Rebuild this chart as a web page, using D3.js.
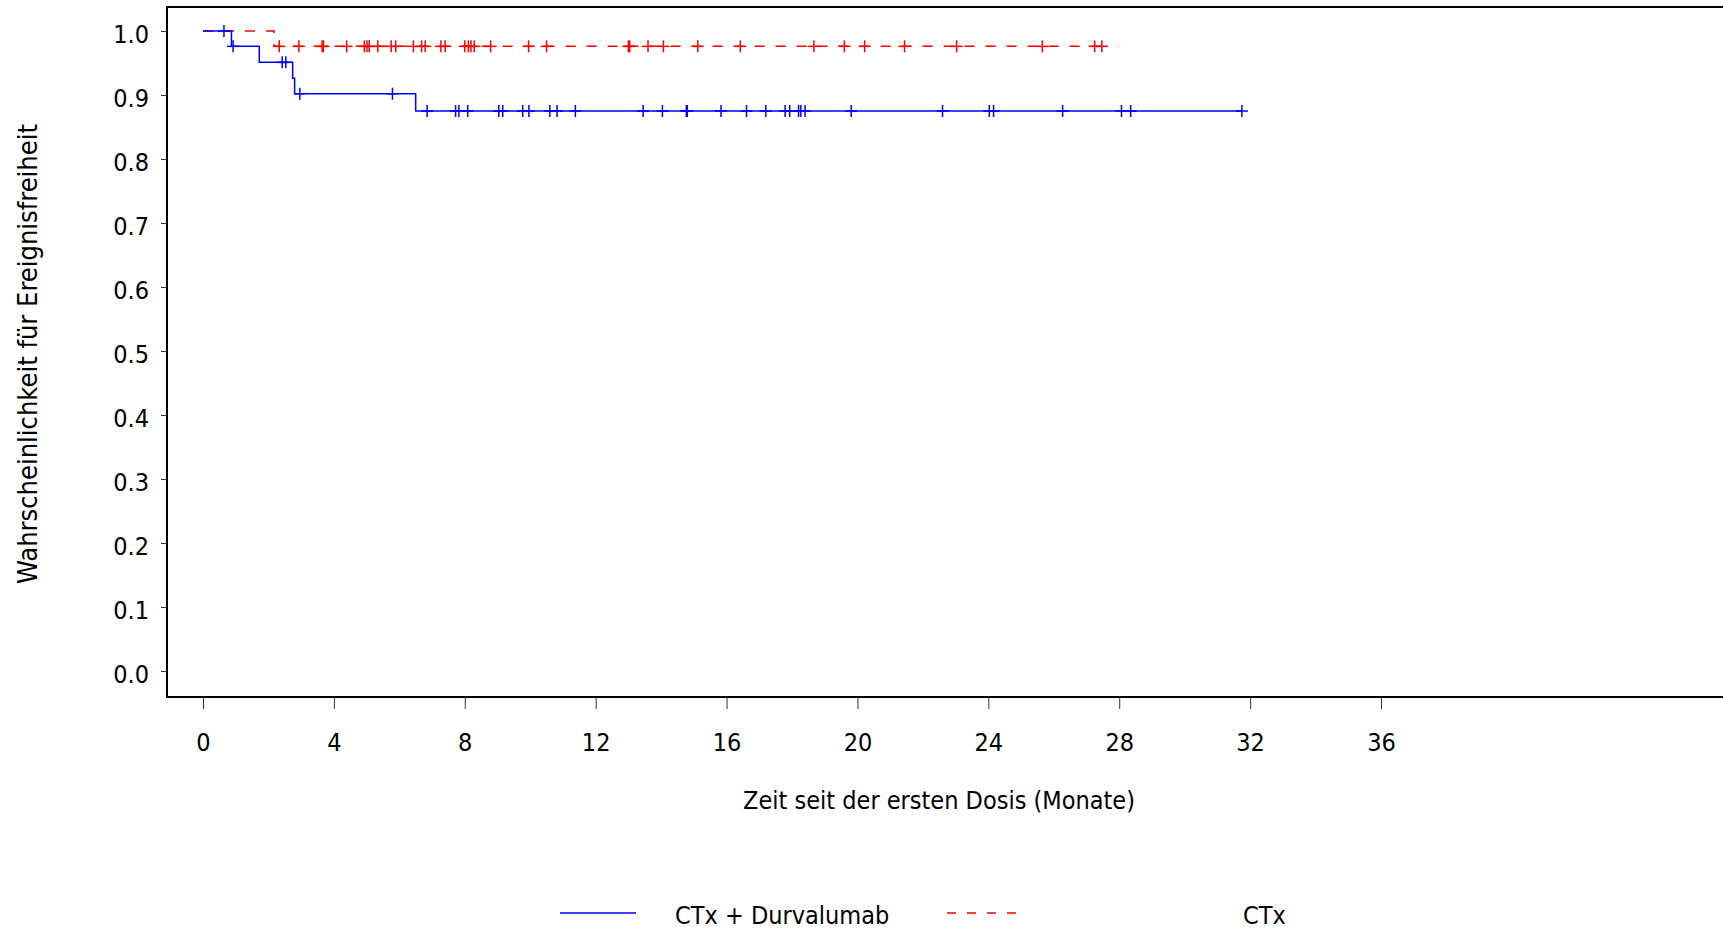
<!DOCTYPE html>
<html>
<head>
<meta charset="utf-8">
<script src="https://cdn.jsdelivr.net/npm/d3@7"></script>
<style>
  body { margin: 0; background: #fff; }
  svg text { font-family: "DejaVu Sans Condensed", "DejaVu Sans", sans-serif; fill: #000; }
</style>
</head>
<body>
<div id="chart"></div>
<script>
const width = 1723;
const height = 932;

// Kaplan-Meier steps (time in months, survival)
const durvaTimes = [0, 0.87, 1.72, 2.74, 2.80, 6.50, 31.75];
const durvaSurv = [1.0, 0.976, 0.951, 0.926, 0.902, 0.875, 0.875];
const durvaCensor = [0.64, 0.92, 2.42, 2.53, 2.96, 5.79, 6.85, 7.72, 7.82, 8.09, 9.04, 9.16,
    9.77, 9.96, 10.6, 10.82, 11.38, 13.45, 14.04, 14.77, 14.8, 15.83, 16.61, 17.2, 17.79,
    17.93, 18.2, 18.27, 18.4, 19.81, 22.6, 24.03, 24.16, 26.27, 28.07, 28.35, 31.75];

const ctxTimes = [0, 2.17, 27.47];
const ctxSurv = [1.0, 0.976, 0.976];
const ctxCensor = [2.33, 2.93, 3.64, 3.68, 4.39, 4.93, 5.01, 5.08, 5.34, 5.75, 5.89, 6.43,
    6.68, 6.79, 7.27, 7.40, 8.0, 8.11, 8.19, 8.29, 8.79, 9.95, 10.5, 13.0, 13.04, 13.6,
    14.07, 15.12, 16.42, 18.67, 19.6, 20.22, 21.44, 23.03, 25.65, 27.25, 27.47];

const xTicks = [0, 4, 8, 12, 16, 20, 24, 28, 32, 36];
const yTicks = [0, 0.1, 0.2, 0.3, 0.4, 0.5, 0.6, 0.7, 0.8, 0.9, 1.0];

const seriesNames = ["CTx + Durvalumab", "CTx"];
const blue = "#0000ff";
const red = "#ff0000";

const svg = d3.select("#chart")
    .append("svg")
    .attr("width", width)
    .attr("height", height);

const x = d3.scaleLinear().domain([0, 36]).range([203, 1381]);
const y = d3.scaleLinear().domain([0, 1]).range([671, 31]);

// frame (runs off the right edge like the original)
svg.append("rect")
    .attr("x", 167)
    .attr("y", 7)
    .attr("width", 1600)
    .attr("height", 690)
    .attr("fill", "none")
    .attr("stroke", "#000")
    .attr("stroke-width", 2);

const xAxis = svg.append("g")
    .attr("transform", "translate(0,697)")
    .call(d3.axisBottom(x).tickValues(xTicks).tickFormat(d3.format("d")).tickSize(12).tickPadding(24));
xAxis.select(".domain").remove();

const yAxis = svg.append("g")
    .attr("transform", "translate(167,0)")
    .call(d3.axisLeft(y).tickValues(yTicks).tickFormat(d3.format(".1f")).tickSize(6).tickPadding(12));
yAxis.select(".domain").remove();
yAxis.selectAll(".tick text").attr("dy", "0.45em");

svg.selectAll(".tick line").attr("stroke", "#333").attr("stroke-width", 1);
svg.selectAll(".tick text").attr("font-size", 25).attr("font-family", null);

svg.append("text")
    .attr("x", 939)
    .attr("y", 809)
    .attr("text-anchor", "middle")
    .attr("font-size", 25)
    .text("Zeit seit der ersten Dosis (Monate)");

svg.append("text")
    .attr("transform", "translate(37,354) rotate(-90)")
    .attr("text-anchor", "middle")
    .attr("font-size", 27)
    .text("Wahrscheinlichkeit für Ereignisfreiheit");

function stepValue(times, surv, t) {
    let s = surv[0];
    for (let i = 0; i < times.length; i++) {
        if (times[i] <= t) s = surv[i];
    }
    return s;
}

const line = d3.line()
    .x(d => x(d[0]))
    .y(d => y(d[1]))
    .curve(d3.curveStepAfter);

function drawArm(times, surv, censor, color, dash) {
    const pts = times.map((t, i) => [t, surv[i]]);
    svg.append("path")
        .datum(pts)
        .attr("d", line)
        .attr("fill", "none")
        .attr("stroke", color)
        .attr("stroke-width", 1.5)
        .attr("stroke-dasharray", dash);

    const g = svg.append("g");
    censor.forEach(t => {
        const cx = x(t);
        const cy = y(stepValue(times, surv, t));
        g.append("line")
            .attr("x1", cx - 6).attr("x2", cx + 6)
            .attr("y1", cy).attr("y2", cy)
            .attr("stroke", color).attr("stroke-width", 1.5);
        g.append("line")
            .attr("x1", cx).attr("x2", cx)
            .attr("y1", cy - 6).attr("y2", cy + 6)
            .attr("stroke", color).attr("stroke-width", 1.5);
    });
}

drawArm(ctxTimes, ctxSurv, ctxCensor, red, "10,11");
drawArm(durvaTimes, durvaSurv, durvaCensor, blue, null);

// legend
const legY = 913;
svg.append("line")
    .attr("x1", 560).attr("x2", 636)
    .attr("y1", legY).attr("y2", legY)
    .attr("stroke", blue).attr("stroke-width", 1.5);
svg.append("text")
    .attr("x", 675).attr("y", legY + 11)
    .attr("font-size", 25)
    .text(seriesNames[0]);
svg.append("line")
    .attr("x1", 947).attr("x2", 1023)
    .attr("y1", legY).attr("y2", legY)
    .attr("stroke", red).attr("stroke-width", 1.5)
    .attr("stroke-dasharray", "9,11");
svg.append("text")
    .attr("x", 1243).attr("y", legY + 11)
    .attr("font-size", 25)
    .text(seriesNames[1]);
</script>
</body>
</html>
